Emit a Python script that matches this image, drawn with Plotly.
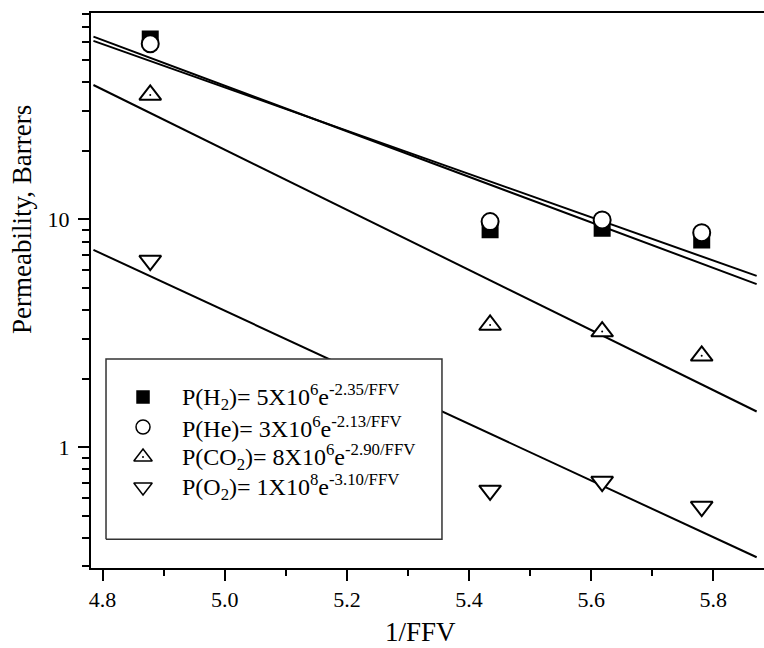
import plotly.graph_objects as go

# ---------------- data ----------------
inv_ffv = [4.878, 5.4345, 5.618, 5.781]
perm_h2 = [62.0, 9.0, 9.15, 8.13]
perm_he = [59.0, 9.78, 9.95, 8.75]
perm_co2 = [35.2, 3.44, 3.22, 2.52]
perm_o2 = [6.6, 0.646, 0.707, 0.549]

fit_x = [4.785, 5.871]
fit_h2 = [63.4, 5.2]
fit_he = [60.8, 5.65]
fit_co2 = [38.9, 1.435]
fit_o2 = [7.35, 0.329]

x_ticks = [4.8, 5.0, 5.2, 5.4, 5.6, 5.8]
x_tick_labels = ["4.8", "5.0", "5.2", "5.4", "5.6", "5.8"]
x_minor = [4.9, 5.1, 5.3, 5.5, 5.7]
y_ticks = [1, 10]
y_tick_labels = ["1", "10"]
y_minor = [0.3, 0.4, 0.5, 0.6, 0.7, 0.8, 0.9, 2, 3, 4, 5, 6, 7, 8, 9,
           20, 30, 40, 50, 60, 70, 80]

legend_labels = [
    "P(H<sub>2</sub>)= 5X10<sup>6</sup>e<sup>-2.35/FFV</sup>",
    "P(He)= 3X10<sup>6</sup>e<sup>-2.13/FFV</sup>",
    "P(CO<sub>2</sub>)= 8X10<sup>6</sup>e<sup>-2.90/FFV</sup>",
    "P(O<sub>2</sub>)= 1X10<sup>8</sup>e<sup>-3.10/FFV</sup>",
]

FONT = "Liberation Serif, Times New Roman, serif"
BLACK = "black"

fig = go.Figure()

# fit lines
for fy in [fit_h2, fit_he, fit_co2, fit_o2]:
    fig.add_trace(go.Scatter(x=fit_x, y=fy, mode="lines",
                             line=dict(color=BLACK, width=2), showlegend=False,
                             hoverinfo="skip"))

# data points
fig.add_trace(go.Scatter(x=inv_ffv, y=perm_h2, mode="markers", showlegend=False,
                         marker=dict(symbol="square", size=15, color=BLACK,
                                     line=dict(color=BLACK, width=2))))
fig.add_trace(go.Scatter(x=inv_ffv, y=perm_he, mode="markers", showlegend=False,
                         marker=dict(symbol="circle", size=17, color="white",
                                     line=dict(color=BLACK, width=2))))
fig.add_trace(go.Scatter(x=inv_ffv, y=perm_co2, mode="markers", showlegend=False,
                         marker=dict(symbol="triangle-up", size=19, color="white",
                                     line=dict(color=BLACK, width=2))))
fig.add_trace(go.Scatter(x=inv_ffv, y=perm_co2, mode="markers", showlegend=False,
                         marker=dict(symbol="circle", size=2, color=BLACK)))
fig.add_trace(go.Scatter(x=inv_ffv, y=perm_o2, mode="markers", showlegend=False,
                         marker=dict(symbol="triangle-down", size=19, color="white",
                                     line=dict(color=BLACK, width=2))))

# ---------------- manual legend (overlay axis in plot-fraction units) ----------------
box_x = [0.0223, 0.5215, 0.5215, 0.0223, 0.0223]
box_y = [0.0517, 0.0517, 0.3766, 0.3766, 0.0517]
fig.add_trace(go.Scatter(x=box_x, y=box_y, xaxis="x2", yaxis="y2", mode="lines",
                         fill="toself", fillcolor="white",
                         line=dict(color="#333333", width=1.5),
                         showlegend=False, hoverinfo="skip"))
leg_mx = 0.0773
leg_tx = 0.1322
leg_rows = [0.3081, 0.2541, 0.2000, 0.1459]
leg_styles = [
    dict(symbol="square", size=12, color=BLACK, line=dict(color=BLACK, width=1.5)),
    dict(symbol="circle", size=14, color="white", line=dict(color=BLACK, width=1.5)),
    dict(symbol="triangle-up", size=16, color="white", line=dict(color=BLACK, width=1.5)),
    dict(symbol="triangle-down", size=16, color="white", line=dict(color=BLACK, width=1.5)),
]
for ry, st in zip(leg_rows, leg_styles):
    fig.add_trace(go.Scatter(x=[leg_mx], y=[ry], xaxis="x2", yaxis="y2",
                             mode="markers", marker=st, showlegend=False,
                             hoverinfo="skip", cliponaxis=False))
fig.add_trace(go.Scatter(x=[leg_mx], y=[leg_rows[2]], xaxis="x2", yaxis="y2",
                         mode="markers", marker=dict(symbol="circle", size=2, color=BLACK),
                         showlegend=False, hoverinfo="skip"))
for ry, lab in zip(leg_rows, legend_labels):
    fig.add_annotation(x=leg_tx, y=ry, xref="x2", yref="y2", text=lab,
                       showarrow=False, xanchor="left", yanchor="middle",
                       font=dict(family=FONT, size=24, color=BLACK))

# axis titles (positioned as in the reference)
fig.add_annotation(x=-0.1025, y=0.627, xref="paper", yref="paper",
                   text="Permeability, Barrers", textangle=-90, showarrow=False,
                   xanchor="center", yanchor="middle",
                   font=dict(family=FONT, size=27, color=BLACK))
fig.add_annotation(x=0.489, y=-0.116, xref="paper", yref="paper",
                   text="1/FFV", showarrow=False,
                   xanchor="center", yanchor="middle",
                   font=dict(family=FONT, size=27, color=BLACK))

fig.update_layout(
    width=764, height=648,
    margin=dict(l=91, r=0, t=13, b=80),
    paper_bgcolor="white", plot_bgcolor="white",
    font=dict(family=FONT, color=BLACK),
    showlegend=False,
    xaxis=dict(range=[4.781, 5.883], tickvals=x_ticks, ticktext=x_tick_labels,
               ticks="outside", ticklen=11, tickwidth=2, tickcolor=BLACK,
               showline=True, linewidth=2, linecolor=BLACK, mirror=True,
               showgrid=False, zeroline=False,
               minor=dict(tickvals=x_minor, ticks="outside", ticklen=6,
                          tickwidth=2, tickcolor=BLACK),
               tickfont=dict(family=FONT, size=22, color=BLACK)),
    yaxis=dict(type="log", range=[-0.530, 1.906], tickvals=y_ticks,
               ticktext=y_tick_labels,
               ticks="outside", ticklen=11, tickwidth=2, tickcolor=BLACK,
               showline=True, linewidth=2, linecolor=BLACK,
               showgrid=False, zeroline=False, ticklabelstandoff=4,
               minor=dict(tickvals=y_minor, ticks="outside", ticklen=7,
                          tickwidth=2, tickcolor=BLACK),
               tickfont=dict(family=FONT, size=22, color=BLACK)),
    xaxis2=dict(overlaying="x", range=[0, 1], visible=False, fixedrange=True),
    yaxis2=dict(overlaying="y", range=[0, 1], visible=False, fixedrange=True),
)

fig.write_html("out.html")
